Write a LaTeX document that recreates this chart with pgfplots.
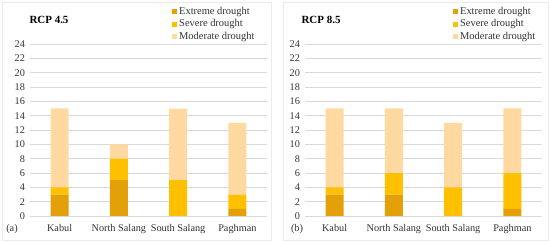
\documentclass[border=0pt]{standalone}
\usepackage{pgfplots}
\pgfplotsset{compat=1.18}
\usepackage{fontspec}
\setmainfont{Liberation Serif}
\definecolor{ext}{RGB}{227,160,8}
\definecolor{sev}{RGB}{255,192,0}
\definecolor{mod}{RGB}{255,217,160}
\definecolor{gridc}{RGB}{217,217,217}
\definecolor{framec}{RGB}{235,235,235}

\pgfplotsset{panel/.style={
  scale only axis, width=237bp, height=172bp,
  ybar stacked, bar width=18bp,
  ymin=0, ymax=24, ytick={0,2,...,24},
  xmin=-0.5, xmax=3.5, xtick={0,1,2,3},
  xticklabels={Kabul, North Salang, South Salang, Paghman},
  axis line style={draw=none},
  major tick length=0pt,
  ymajorgrids, major grid style={gridc, line width=0.7bp},
  tick label style={font=\fontsize{10.3}{11}\selectfont, text=black!80},
  /pgf/number format/assume math mode=true,
  yticklabel style={xshift=-1.5bp},
  xticklabel style={yshift=-4.5bp},
  legend style={draw=none, fill=none, font=\fontsize{10.5}{11}\selectfont,
    at={(0.6,1.225)}, anchor=north west, row sep=-0.5bp, inner sep=0pt,
    text=black!80},
  legend cell align=left,
  legend image code/.code={\fill[#1] (0bp,-2.4bp) rectangle (4.8bp,2.4bp);},
}}

\pgfplotstableread{
x ext sev mod
0 3 1 11
1 5 3 2
2 0 5 10
3 1 2 10
}\rcpa
\pgfplotstableread{
x ext sev mod
0 3 1 11
1 3 3 9
2 0 4 9
3 1 5 9
}\rcpb

\begin{document}
\begin{tikzpicture}
\path (0,0) rectangle (550bp,242bp);
\draw[framec, line width=0.8bp] (2bp,2bp) rectangle (271bp,240bp);
\draw[framec, line width=0.8bp] (283bp,2bp) rectangle (548bp,240bp);

\begin{axis}[panel, at={(30bp,26bp)}, anchor=south west]
\addplot[fill=ext, draw=none] table[x=x, y=ext] {\rcpa};
\addplot[fill=sev, draw=none] table[x=x, y=sev] {\rcpa};
\addplot[fill=mod, draw=none] table[x=x, y=mod] {\rcpa};
\legend{Extreme drought, Severe drought, Moderate drought}
\end{axis}
\node[anchor=west, font=\bfseries\fontsize{11}{12}\selectfont] at (26bp,222bp) {RCP 4.5};
\node[font=\fontsize{10.3}{11}\selectfont, text=black!80] at (12bp,13bp) {(a)};

\begin{axis}[panel, at={(305bp,26bp)}, anchor=south west,
  legend style={at={(0.625,1.225)}}]
\addplot[fill=ext, draw=none] table[x=x, y=ext] {\rcpb};
\addplot[fill=sev, draw=none] table[x=x, y=sev] {\rcpb};
\addplot[fill=mod, draw=none] table[x=x, y=mod] {\rcpb};
\legend{Extreme drought, Severe drought, Moderate drought}
\end{axis}
\node[anchor=west, font=\bfseries\fontsize{11}{12}\selectfont] at (298bp,222bp) {RCP 8.5};
\node[font=\fontsize{10.3}{11}\selectfont, text=black!80] at (297bp,13bp) {(b)};
\end{tikzpicture}
\end{document}
